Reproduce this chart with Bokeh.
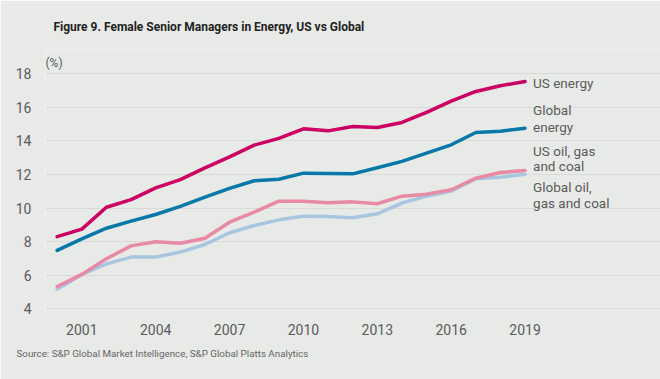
from bokeh.plotting import figure
from bokeh.models import FixedTicker, Label, Range1d, Title
from bokeh.embed import file_html
from bokeh.resources import INLINE

years = list(range(2000, 2020))
us_energy = [8.3, 8.75, 10.05, 10.5, 11.2, 11.7, 12.4, 13.05, 13.75, 14.15, 14.72, 14.6, 14.86, 14.8, 15.1, 15.7, 16.37, 16.95, 17.29, 17.54]
global_energy = [7.48, 8.17, 8.8, 9.22, 9.62, 10.1, 10.65, 11.17, 11.63, 11.72, 12.08, 12.06, 12.04, 12.4, 12.78, 13.27, 13.77, 14.5, 14.58, 14.76]
us_ogc = [5.33, 6.05, 6.98, 7.75, 8.0, 7.91, 8.2, 9.16, 9.76, 10.41, 10.41, 10.32, 10.37, 10.26, 10.71, 10.83, 11.09, 11.78, 12.12, 12.24]
global_ogc = [5.17, 6.05, 6.68, 7.08, 7.08, 7.38, 7.83, 8.53, 8.96, 9.3, 9.52, 9.5, 9.42, 9.66, 10.3, 10.71, 11.01, 11.75, 11.84, 12.02]
x_ticks = [2001, 2004, 2007, 2010, 2013, 2016, 2019]
y_ticks = [4, 6, 8, 10, 12, 14, 16, 18]

BG = "#E8EAE7"
GRID = "#D7DAD6"
TXT = "#5B5B5B"
FONT = "Roboto"

p = figure(width=660, height=379, output_backend="svg", toolbar_location=None,
           x_range=Range1d(1999.525, 2024.5), y_range=Range1d(3.72, 19.507),
           min_border_left=45, min_border_right=0, min_border_top=48, min_border_bottom=66)
p.title.text = "Figure 9. Female Senior Managers in Energy, US vs Global"
p.title.text_font = FONT
p.title.text_font_size = "12px"
p.title.text_font_style = "bold"
p.title.text_color = "#222222"
p.title.offset = 8
p.title.standoff = 30
p.background_fill_color = BG
p.border_fill_color = BG
p.outline_line_color = None

p.xgrid.grid_line_color = None
p.ygrid.grid_line_color = GRID
p.ygrid.grid_line_width = 1
p.ygrid.bounds = (1999.525, 2019.55)

for ax in (p.xaxis, p.yaxis):
    ax.axis_line_color = None
    ax.major_tick_line_color = None
    ax.minor_tick_line_color = None
    ax.major_label_text_font = FONT
    ax.major_label_text_font_size = "14px"
    ax.major_label_text_color = TXT
p.xaxis.ticker = FixedTicker(ticks=x_ticks)
p.yaxis.ticker = FixedTicker(ticks=y_ticks)
p.xaxis.major_label_standoff = 4
p.yaxis.major_label_standoff = 8

series = [
    (global_ogc, "#A8C6E0"),
    (us_ogc, "#E88AA6"),
    (global_energy, "#0878A8"),
    (us_energy, "#CC0063"),
]
for vals, col in series:
    p.line(years, vals, line_color=col, line_width=3.5, line_join="round", line_cap="round")

def lab(text, yv, **kw):
    p.add_layout(Label(x=2019, y=yv, x_offset=8, text=text, text_font=FONT,
                       text_font_size="13.5px", text_color=TXT, text_baseline="middle", **kw))

lab("US energy", 17.46)
lab("Global", 15.86)
lab("energy", 14.86)
lab("US oil, gas", 13.43)
lab("and coal", 12.48)
lab("Global oil,", 11.25)
lab("gas and coal", 10.29)

p.add_layout(Label(x=1999.525, y=18, y_offset=4, text="(%)", text_font=FONT,
                   text_font_size="12px", text_color=TXT, text_baseline="bottom"))

src = Title(text="Source: S&P Global Market Intelligence, S&P Global Platts Analytics",
            align="left", offset=-29, standoff=16, text_font=FONT, text_font_size="9.8px",
            text_font_style="normal", text_color="#666666")
p.add_layout(src, "below")

open("out.html", "w").write(file_html(p, INLINE))
